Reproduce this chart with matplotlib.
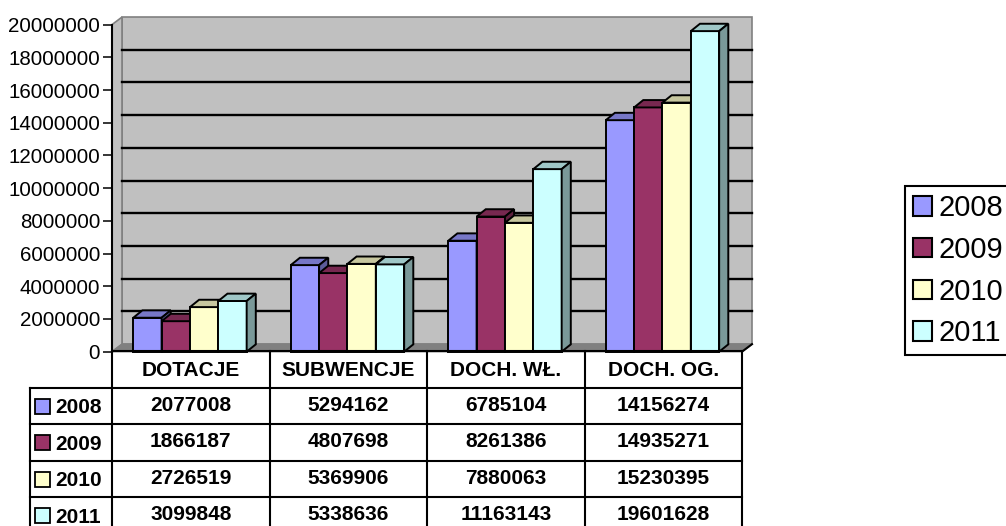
import matplotlib
matplotlib.use("Agg")
import matplotlib.pyplot as plt
from matplotlib.patches import Polygon, Rectangle, Patch
from matplotlib.colors import to_rgb

plt.rcParams['font.family'] = ['Liberation Sans', 'DejaVu Sans']

categories = ['DOTACJE', 'SUBWENCJE', 'DOCH. WŁ.', 'DOCH. OG.']
years = ['2008', '2009', '2010', '2011']
v2008 = [2077008, 5294162, 6785104, 14156274]
v2009 = [1866187, 4807698, 8261386, 14935271]
v2010 = [2726519, 5369906, 7880063, 15230395]
v2011 = [3099848, 5338636, 11163143, 19601628]
series = [v2008, v2009, v2010, v2011]
colors = ['#9999FF', '#993366', '#FFFFCC', '#CCFFFF']

W, H = 1006, 526
YMAX = 20000000

# depth offsets of the fake 3D (in data units)
WALL_DX, WALL_DY = 0.0635, 0.46e6
BAR_DX, BAR_DY = 0.058, 0.45e6
BAR_W = 0.18
GROUP_START = 0.135


def shade(c, f):
    r, g, b = to_rgb(c)
    return (r * f, g * f, b * f)


fig = plt.figure(figsize=(W / 100, H / 100), dpi=100)
fig.patch.set_facecolor('white')

ax = fig.add_axes([112 / W, (H - 351.7) / H, 630 / W, 327.1 / H])
ax.set_xlim(0, 4)
ax.set_ylim(0, YMAX)
ax.set_facecolor('none')
for s in ['top', 'right', 'bottom']:
    ax.spines[s].set_visible(False)
ax.spines['left'].set_linewidth(1.5)
ax.spines['left'].set_zorder(20)
ax.set_xticks([])
ax.set_yticks(range(0, YMAX + 1, 2000000))
ax.set_yticklabels([str(v) for v in range(0, YMAX + 1, 2000000)])
ax.tick_params(axis='y', length=6.5, width=1.1, pad=2, labelsize=14.8)

# back wall
ax.add_patch(Polygon([(WALL_DX, WALL_DY), (4 + WALL_DX, WALL_DY),
                      (4 + WALL_DX, YMAX + WALL_DY), (WALL_DX, YMAX + WALL_DY)],
                     closed=True, facecolor='#C0C0C0', edgecolor='#808080',
                     lw=1.2, zorder=0.5, clip_on=False))
# left side wall
ax.add_patch(Polygon([(0, 0), (WALL_DX, WALL_DY), (WALL_DX, YMAX + WALL_DY), (0, YMAX)],
                     closed=True, facecolor='#C0C0C0', edgecolor='#808080',
                     lw=1.2, zorder=0.6, clip_on=False))
# floor
ax.add_patch(Polygon([(0, 0), (4, 0), (4 + WALL_DX, WALL_DY), (WALL_DX, WALL_DY)],
                     closed=True, facecolor='#808080', edgecolor='#808080',
                     lw=1, zorder=0.7, clip_on=False))
ax.plot([4, 4 + WALL_DX], [0, WALL_DY], color='black', lw=1.5, zorder=0.8, clip_on=False)

# gridlines on back wall
for g in range(2000000, YMAX, 2000000):
    ax.plot([WALL_DX, 4 + WALL_DX], [g + WALL_DY, g + WALL_DY], color='black',
            lw=1.7, zorder=1, clip_on=False)

# bars
z = 2
for ci in range(len(categories)):
    for si, vals in enumerate(series):
        h = vals[ci]
        x0 = ci + GROUP_START + si * BAR_W
        x1 = x0 + BAR_W
        c = colors[si]
        ax.add_patch(Polygon([(x0, 0), (x1, 0), (x1, h), (x0, h)], closed=True,
                             facecolor=c, edgecolor='black', lw=1.4, zorder=z,
                             clip_on=False))
        ax.add_patch(Polygon([(x0, h), (x1, h), (x1 + BAR_DX, h + BAR_DY),
                              (x0 + BAR_DX, h + BAR_DY)], closed=True,
                             facecolor=shade(c, 0.78), edgecolor='black', lw=1.4,
                             zorder=z, clip_on=False))
        ax.add_patch(Polygon([(x1, 0), (x1 + BAR_DX, BAR_DY), (x1 + BAR_DX, h + BAR_DY),
                              (x1, h)], closed=True,
                             facecolor=shade(c, 0.6), edgecolor='black', lw=1.4,
                             zorder=z, clip_on=False))
        z += 1

# data table
tab = fig.add_axes([30 / W, (H - 534) / H, 712 / W, 183 / H])
LEFT = -82 / 157.5
tab.set_xlim(LEFT, 4)
tab.set_ylim(5, 0)
tab.axis('off')

lk = dict(color='black', lw=1.5, clip_on=False, solid_capstyle='projecting')
tab.plot([0, 4], [0, 0], **lk)
for r in range(1, 5):
    tab.plot([LEFT, 4], [r, r], **lk)
tab.plot([LEFT, LEFT], [1, 5], **lk)
for c in range(5):
    tab.plot([c, c], [0, 5], **lk)

for ci, cat in enumerate(categories):
    tab.text(ci + 0.5, 0.52, cat, ha='center', va='center', fontsize=15,
             fontweight='bold')
for si, vals in enumerate(series):
    r = si + 1
    tab.add_patch(Rectangle((-77 / 157.5, r + 0.3), 15 / 157.5, 0.41,
                            facecolor=colors[si], edgecolor='black', lw=1.3,
                            clip_on=False))
    tab.text(-57 / 157.5, r + 0.55, years[si], ha='left', va='center',
             fontsize=15, fontweight='bold')
    for ci, v in enumerate(vals):
        tab.text(ci + 0.5, r + 0.48, str(v), ha='center', va='center',
                 fontsize=15, fontweight='bold')

# legend
handles = [Patch(facecolor=colors[i], edgecolor='black', lw=1.5, label=years[i])
           for i in range(4)]
leg = fig.legend(handles=handles, loc='upper left',
                 bbox_to_anchor=(905 / W, 1 - 186 / H), fontsize=21,
                 fancybox=False, framealpha=1, edgecolor='black',
                 handlelength=0.65, handleheight=0.65, handletextpad=0.22,
                 labelspacing=0.47, borderpad=0.28, borderaxespad=0)
leg.get_frame().set_linewidth(1.5)

fig.savefig('out.png', dpi=100)
